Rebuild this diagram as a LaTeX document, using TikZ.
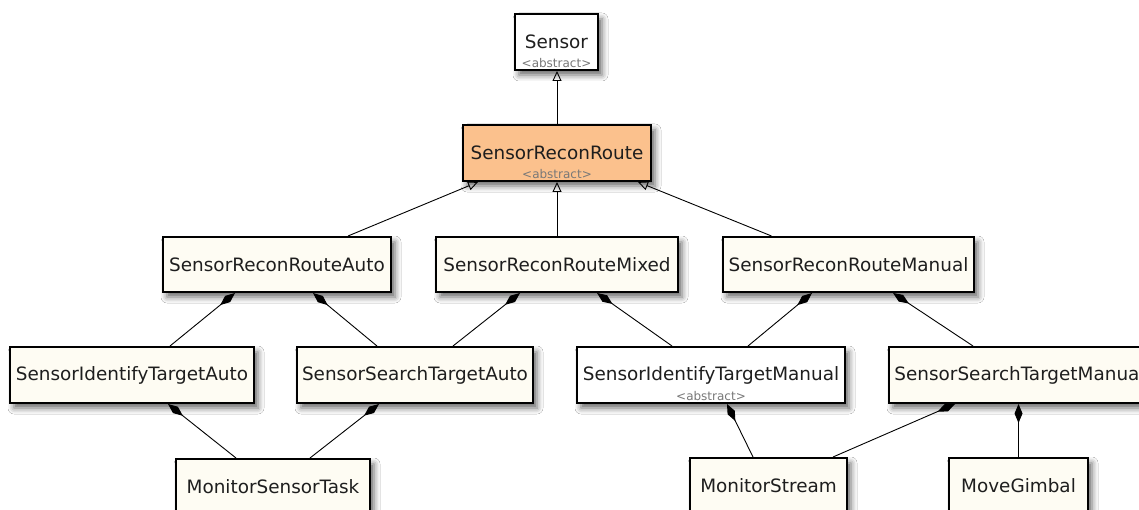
\documentclass[tikz,border=0pt]{standalone}
\usepackage{fontspec}
\setmainfont{DejaVu Sans}
\usetikzlibrary{arrows.meta,shadows.blur}
\definecolor{cream}{RGB}{254,252,243}
\definecolor{peach}{RGB}{251,193,141}
\definecolor{txt}{RGB}{30,30,30}
\definecolor{abscol}{RGB}{120,120,120}
\tikzset{
  cls/.style={draw=black, line width=2pt, fill=cream, text=txt,
    font=\fontsize{18.4}{20}\selectfont, inner sep=0pt,
    blur shadow={shadow xshift=4pt, shadow yshift=-5pt, shadow blur radius=6pt, shadow opacity=60}},
  abstractcls/.style={cls, fill=peach},
  abslbl/.style={font=\fontsize{12}{13}\selectfont, text=abscol, inner sep=0pt, anchor=south},
  gen/.style={draw=black, line width=0.9pt, -{Triangle[open, length=10pt, width=9pt]}},
  comp/.style={draw=black, line width=0.9pt, {Diamond[length=19pt, width=8pt]}-},
}
\begin{document}
\begin{tikzpicture}[x=1pt,y=-1pt]
\useasboundingbox (0,0) rectangle (1139,510);
\clip (0,0) rectangle (1139,510);
\fill[white] (0,0) rectangle (1139,510);

% row 0
\node[cls, fill=white, minimum width=83pt, minimum height=56pt] (sensor) at (556.5,42) {Sensor};
\node[abslbl] (sensorabs) at ([yshift=3pt]sensor.south) {<abstract>};
% row 1
\node[abstractcls, minimum width=188pt, minimum height=56pt] (srr) at (557,153) {SensorReconRoute};
\node[abslbl] (srrabs) at ([yshift=3pt]srr.south) {<abstract>};
% row 2
\node[cls, minimum width=228pt, minimum height=55pt] (auto) at (277,264.5) {SensorReconRouteAuto};
\node[cls, minimum width=242pt, minimum height=55pt] (mixed) at (557,264.5) {SensorReconRouteMixed};
\node[cls, minimum width=251pt, minimum height=55pt] (manual) at (848.5,264.5) {SensorReconRouteManual};
% row 3
\node[cls, minimum width=244pt, minimum height=56pt] (sita) at (132,375) {SensorIdentifyTargetAuto};
\node[cls, minimum width=236pt, minimum height=56pt] (ssta) at (415,375) {SensorSearchTargetAuto};
\node[cls, fill=white, minimum width=268pt, minimum height=56pt] (sitm) at (711,375) {SensorIdentifyTargetManual};
\node[abslbl] (sitmabs) at ([yshift=3pt]sitm.south) {<abstract>};
\node[cls, minimum width=261pt, minimum height=56pt] (sstm) at (1019.5,375) {SensorSearchTargetManual};
% row 4
\node[cls, minimum width=194pt, minimum height=56pt] (mst) at (273,487) {MonitorSensorTask};
\node[cls, minimum width=157pt, minimum height=56pt] (mstream) at (768.5,486) {MonitorStream};
\node[cls, minimum width=139pt, minimum height=56pt] (gimbal) at (1018.5,486) {MoveGimbal};

% generalizations
\draw[gen] (srr.north) -- (srr.north |- sensor.south);
\draw[gen] ([xshift=71pt]auto.north) -- ([xshift=-79pt]srr.south);
\draw[gen] (mixed.north) -- (mixed.north |- srr.south);
\draw[gen] ([xshift=-77pt]manual.north) -- ([xshift=81pt]srr.south);

% compositions
\draw[comp] ([xshift=-42pt]auto.south) -- ([xshift=38pt]sita.north);
\draw[comp] ([xshift=36pt]auto.south) -- ([xshift=-38pt]ssta.north);
\draw[comp] ([xshift=-37pt]mixed.south) -- ([xshift=38pt]ssta.north);
\draw[comp] ([xshift=40pt]mixed.south) -- ([xshift=-39pt]sitm.north);
\draw[comp] ([xshift=-36.5pt]manual.south) -- ([xshift=37pt]sitm.north);
\draw[comp] ([xshift=44.5pt]manual.south) -- ([xshift=-46.5pt]sstm.north);
\draw[comp] ([xshift=36pt]sita.south) -- ([xshift=-37pt]mst.north);
\draw[comp] ([xshift=-36pt]ssta.south) -- ([xshift=37pt]mst.north);
\draw[comp] ([xshift=16pt]sitm.south) -- ([xshift=-15.5pt]mstream.north);
\draw[comp] ([xshift=-64.5pt]sstm.south) -- ([xshift=64.5pt]mstream.north);
\draw[comp] (gimbal.north |- sstm.south) -- (gimbal.north);
\end{tikzpicture}
\end{document}
